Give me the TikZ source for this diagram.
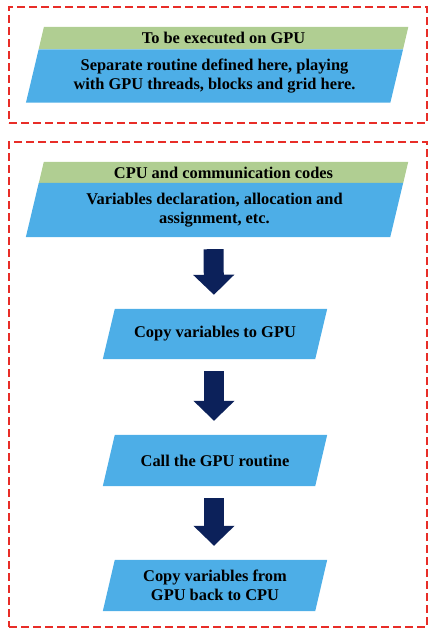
\documentclass[tikz,border=0pt]{standalone}
\usepackage{fontspec}
\setmainfont{Liberation Serif}
\usetikzlibrary{arrows.meta,backgrounds}
\definecolor{framered}{RGB}{232,45,40}
\definecolor{bandgreen}{RGB}{176,206,146}
\definecolor{boxblue}{RGB}{77,174,231}
\definecolor{arrownavy}{RGB}{12,33,90}
\newcommand{\parafill}[3]{%
  \fill[#3] ([xshift=#2]#1.north west) -- ([xshift=#2]#1.north east) --
    ([xshift=-#2]#1.south east) -- ([xshift=-#2]#1.south west) -- cycle;}
\begin{document}
\begin{tikzpicture}[x=1pt,y=-1pt,
  txt/.style={inner sep=0pt, align=center, font=\bfseries\fontsize{16.4}{19}\selectfont, text=black},
  frame/.style={draw=framered, line width=2pt, dash pattern=on 8pt off 4pt, inner sep=0pt},
  flowarrow/.style={draw=arrownavy, line width=20pt, -{Triangle[width=40pt,length=20pt]}, shorten <=12pt, shorten >=14pt}]
\useasboundingbox (0,0) rectangle (436,640);
% frames
\node[frame, minimum width=418pt, minimum height=116pt] (f1) at (218,65) {};
\node[frame, minimum width=418pt, minimum height=485pt] (f2) at (218,384.5) {};
% top group
\node[txt, minimum width=364pt, minimum height=22pt] (g1) at (223.5,38) {To be executed on GPU};
\node[txt, minimum width=364pt, minimum height=53pt] (b1) at (214.5,76) {Separate routine defined here, playing\\with GPU threads, blocks and grid here.};
% second group
\node[txt, minimum width=364pt, minimum height=21pt] (g2) at (223.5,172.5) {CPU and communication codes};
\node[txt, minimum width=364pt, minimum height=54pt] (b2) at (214.5,210) {Variables declaration, allocation and\\assignment, etc.};
% flow boxes
\node[txt, minimum width=212pt, minimum height=50pt] (s1) at (215,334) {Copy variables to GPU};
\node[txt, minimum width=212pt, minimum height=51pt] (s2) at (215,460.5) {Call the GPU routine};
\node[txt, minimum width=212pt, minimum height=51pt] (s3) at (215,585.5) {Copy variables from\\GPU back to CPU};
\begin{scope}[on background layer]
  \parafill{g1}{2.64pt}{bandgreen}
  \parafill{b1}{6.36pt}{boxblue}
  \parafill{g2}{2.52pt}{bandgreen}
  \parafill{b2}{6.48pt}{boxblue}
  \parafill{s1}{6pt}{boxblue}
  \parafill{s2}{6pt}{boxblue}
  \parafill{s3}{6pt}{boxblue}
\end{scope}
% arrows
\draw[flowarrow] ([xshift=-1pt]b2.south) -- ([xshift=-1pt]s1.north);
\draw[flowarrow] ([xshift=-1pt]s1.south) -- ([xshift=-1pt]s2.north);
\draw[flowarrow] ([xshift=-1pt]s2.south) -- ([xshift=-1pt]s3.north);
\end{tikzpicture}
\end{document}
